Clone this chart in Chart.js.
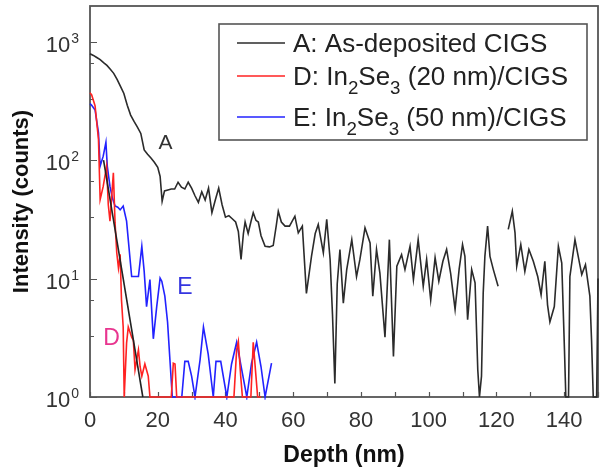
<!DOCTYPE html>
<html>
<head>
<meta charset="utf-8">
<script src="https://cdn.jsdelivr.net/npm/chart.js@4"></script>
<style>
  html, body { margin: 0; padding: 0; background: #fff; }
  canvas { display: block; }
</style>
</head>
<body>
<canvas id="sims" width="601" height="467"></canvas>
<script>
// Depth profiles (depth in nm, intensity in counts)
const depthA = [0, 1, 2, 3, 4, 5, 6, 7, 8, 9, 10, 11, 12, 13, 14, 15, 16, 17, 18, 19, 20, 20.7, 21.3, 22, 23, 24, 25, 26, 27, 28, 29, 30,
  31, 32, 33, 34, 35, 36, 37, 38, 39, 40, 41, 42, 43, 43.8, 44.6, 45.3, 45.8, 46.7, 47.5, 48.2, 49, 49.7, 50.5, 51.7, 53, 54.1, 55, 55.6,
  56.5, 57.6, 58.9, 60.5, 61.5, 62.7, 63.9, 65.4, 66.5, 67.4, 68.9, 69.9, 70.9, 71.6, 72.3, 73, 73.8, 74.8, 75.8, 77.3, 78.7, 79.7, 81.2,
  82.7, 83.5, 84.6, 85.6, 87.1, 88.4, 89.6, 90.6, 92, 93, 94.5, 95.5, 96.9, 98.4, 99.4, 100.6, 101.9, 103, 104.2, 105.3, 106.5, 107.8,
  109, 110, 110.7, 111.5, 112.7, 113.7, 114.5, 115, 115.6, 116.1, 116.6, 117.4, 118.1, 119.1, 120.5, 122, 123.5, 124.7, 125.5, 126,
  127.2, 128.4, 129.6, 130.9, 132.2, 133.2, 134.3, 135.1, 135.8, 137.1, 138.3, 139.3, 140.1, 140.5, 141.3, 141.7, 143.2, 145.2, 146.3,
  147.6, 148.1, 148.6, 149.6, 150];
const countsA = [790, 765, 735, 705, 665, 630, 585, 540, 480, 420, 365, 290, 240, 212, 190, 168, 122, 112, 104, 96, 87, 73, 45, 55, 56, 57, 57, 65, 59, 57, 65, 58,
  50, 44, 54, 46, 58, 36, 46, 58, 42, 33, 34, 32, 30, 25, 14.5, 24, 30, 24, 30, 36, 31, 30, 23, 18.7, 18.5, 19, 28, 37,
  30, 27.7, 27.7, 33.6, 24.3, 27.7, 7.5, 15.4, 24, 28.6, 16.5, 31.6, 14.5, 5, 1.3, 9, 17.6, 6.2, 11.9, 21.3, 10.4, 14.5, 26.8,
  20, 7.1, 17.6, 11.1, 3.2, 21.3, 2.2, 12.7, 15.9, 11.9, 18.7, 9.8, 21.3, 8.6, 14.5, 6.6, 15, 9.5, 14, 17.6, 11, 5.5,
  12, 19.4, 15.4, 4.5, 11.9, 9.2, 1.7, 1, 1.5, 7.5, 15.4, 27.7, 15.4, 11.9, 8.6, null, 26, 37, 24.3, 12.7,
  19.4, 11.5, 17.6, 14, 10.4, 7.3, 14, 6, 4.3, 5.8, 18.7, 13.5, 2.5, 1, 1, 10.4, 21.3, 10.8, 13.1,
  7.1, 3, 1, 1, 10];

const depthD = [0, 0.5, 1.5, 2.5, 3, 3.9, 4.9, 5.4, 5.9, 6.9, 7.4, 7.9, 8.4, 8.9, 9.3, 9.8, 10.1, 10.8, 11.3, 12.3, 12.8, 13.3, 14.3, 14.8,
  15.3, 16.2, 17.2, 17.7, 24, 24.6, 25.1, 25.6, 42.5, 43.3, 43.8, 44.5, 45, 47.5, 48.2, 49, 49.5, 50.5];
const countsD = [370, 355, 287, 150, 46.5, 60, 89, 42, 30.5, 78, 29.5, 16.5, 12.3, 16, 6.6, 3.9, 1, 2.85, 3.9, 3.2, 3, 1.7, 2.5, 1.8,
  1.5, 1.9, 1.5, 1, 1, 1.93, 1.9, 1, 1, 2.5, 2.94, 1.5, 1, 1, 2.9, 1.5, 1, 1];

const depthE = [0, 0.5, 1.5, 2.5, 3, 3.9, 4.7, 5.1, 5.9, 6.6, 7.4, 8.2, 8.9, 9.8, 10.8, 11.3, 12.3, 14.3, 15.3, 16, 16.7, 17.7, 18.7,
  19.7, 20.7, 21.2, 22.1, 22.9, 23.6, 24.3, 27.1, 28, 29, 30, 31, 32.5, 33.5, 34.9, 36.4, 37.2, 38.6, 40.4, 41.8, 43.3, 44.8, 46.3,
  47.7, 49.2, 50.5, 51.7, 53.6];
const countsE = [300, 290, 265, 170, 89, 108, 141, 89, 60, 48, 41, 40, 38, 41, 30.5, 21.3, 10.4, 10.4, 18.7, 11.5, 5.8, 9.8, 3.1,
  5.8, 10.1, 9.5, 7.1, 4.3, 2.06, 1, 1, 2, 2, 1.5, 1, 2.06, 3.9, 2.3, 1, 2, 2, 1, 1.9, 2.9, 1.7, 1,
  1.93, 2.9, 1.8, 1, 1.93];

// straight black decay line drawn over profile D
const depthFit = [4, 15.6];
const countsFit = [100, 1];

const seriesNames = ['A: As-deposited CIGS', 'D: In_2Se_3 (20 nm)/CIGS', 'E: In_2Se_3 (50 nm)/CIGS'];
const seriesColors = ['#2b2b2b', '#ff2222', '#2222ff'];
const xTickStep = 10;
const xLabelStep = 20;
const yMajorTicks = [1, 10, 100, 1000];
const yMinorTicks = [3.3, 6.6, 33, 66, 330, 660];
// curve letters: text, depth, counts, colour
const curveLetters = [['A', 22.3, 140, '#333'], ['E', 28, 8.4, '#3535e0'], ['D', 6.4, 3.1, '#e8358f']];

const FONT = '"Liberation Sans", Arial, sans-serif';

function points(xs, ys) {
  return xs.map((x, i) => ({ x: x, y: ys[i] }));
}

// text with "_n" subscripts
function richText(ctx, text, x, y, size) {
  text.split(/(_\d)/).forEach(part => {
    if (!part) return;
    if (part[0] === '_') {
      ctx.font = (size * 0.72) + 'px ' + FONT;
      ctx.fillText(part[1], x, y + size * 0.36);
      x += ctx.measureText(part[1]).width;
    } else {
      ctx.font = size + 'px ' + FONT;
      ctx.fillText(part, x, y);
      x += ctx.measureText(part).width;
    }
  });
}

const decorations = {
  id: 'decorations',
  beforeDatasetsDraw(chart) {
    const { ctx, chartArea: a, scales: { x, y } } = chart;
    ctx.save();
    ctx.strokeStyle = '#555';
    ctx.lineWidth = 1.8;
    ctx.strokeRect(a.left, a.top, a.right - a.left, a.bottom - a.top);
    ctx.lineWidth = 1.2;
    ctx.beginPath();
    x.ticks.forEach(t => {
      const px = Math.round(x.getPixelForValue(t.value)) + 0.5;
      ctx.moveTo(px, a.bottom);
      ctx.lineTo(px, a.bottom - 5);
    });
    y.ticks.forEach(t => {
      const py = Math.round(y.getPixelForValue(t.value)) + 0.5;
      const len = yMajorTicks.includes(t.value) ? 7 : 4;
      ctx.moveTo(a.left, py);
      ctx.lineTo(a.left + len, py);
    });
    ctx.stroke();
    ctx.restore();
  },
  afterDatasetsDraw(chart) {
    const { ctx, chartArea: a, scales: { x, y } } = chart;
    ctx.save();

    // y tick labels 10^n
    ctx.fillStyle = '#333';
    ctx.textAlign = 'left';
    ctx.textBaseline = 'alphabetic';
    yMajorTicks.forEach(v => {
      const py = y.getPixelForValue(v);
      const exp = String(Math.round(Math.log10(v)));
      ctx.font = '14px ' + FONT;
      const ew = ctx.measureText(exp).width;
      ctx.font = '22px ' + FONT;
      const bw = ctx.measureText('10').width;
      const right = a.left - 11;
      ctx.fillText('10', right - ew - bw - 1, py + 10);
      ctx.font = '14px ' + FONT;
      ctx.fillText(exp, right - ew, py + 1);
    });

    // curve letters
    ctx.textAlign = 'center';
    ctx.textBaseline = 'middle';
    curveLetters.forEach(([t, d, c, col]) => {
      ctx.fillStyle = col;
      ctx.font = (t === 'A' ? 21 : 23) + 'px ' + FONT;
      ctx.fillText(t, x.getPixelForValue(d), y.getPixelForValue(c));
    });

    // legend
    const box = { left: 219, top: 24, right: 587, bottom: 140 };
    const rows = [43, 76, 117];
    ctx.fillStyle = '#fff';
    ctx.fillRect(box.left, box.top, box.right - box.left, box.bottom - box.top);
    ctx.strokeStyle = '#555';
    ctx.lineWidth = 1.6;
    ctx.strokeRect(box.left, box.top, box.right - box.left, box.bottom - box.top);
    ctx.textAlign = 'left';
    ctx.textBaseline = 'alphabetic';
    seriesNames.forEach((name, i) => {
      ctx.strokeStyle = seriesColors[i];
      ctx.lineWidth = 1.6;
      ctx.beginPath();
      ctx.moveTo(237, rows[i]);
      ctx.lineTo(285, rows[i]);
      ctx.stroke();
      ctx.fillStyle = '#222';
      richText(ctx, name, 293, rows[i] + 9, 26);
    });
    ctx.restore();
  }
};

const lineStyle = { pointRadius: 0, borderWidth: 1.6, tension: 0, spanGaps: false, clip: 3 };

new Chart(document.getElementById('sims'), {
  type: 'line',
  data: {
    datasets: [
      Object.assign({ label: seriesNames[0], data: points(depthA, countsA), borderColor: seriesColors[0], order: 0 }, lineStyle),
      Object.assign({ label: 'fit', data: points(depthFit, countsFit), borderColor: '#222', order: 1 }, lineStyle),
      Object.assign({ label: seriesNames[1], data: points(depthD, countsD), borderColor: seriesColors[1], order: 2 }, lineStyle),
      Object.assign({ label: seriesNames[2], data: points(depthE, countsE), borderColor: seriesColors[2], order: 3 }, lineStyle)
    ]
  },
  options: {
    responsive: false,
    animation: false,
    layout: { padding: { top: 6, right: 3, left: 0, bottom: 0 } },
    plugins: { legend: { display: false }, tooltip: { enabled: false } },
    scales: {
      x: {
        type: 'linear',
        min: 0,
        max: 150,
        grid: { display: false },
        border: { display: false },
        ticks: {
          stepSize: xTickStep,
          autoSkip: false,
          maxRotation: 0,
          padding: 3,
          color: '#333',
          font: { family: FONT, size: 22 },
          callback: v => (v % xLabelStep === 0 && v < 150 ? String(v) : '')
        },
        title: {
          display: true,
          text: 'Depth (nm)',
          color: '#111',
          font: { family: FONT, size: 23, weight: 'bold', lineHeight: 1 },
          padding: { top: 0, bottom: 0 }
        },
        afterFit: s => { s.height = 70; }
      },
      y: {
        type: 'logarithmic',
        min: 1,
        max: 2000,
        grid: { display: false },
        border: { display: false },
        ticks: { display: false },
        afterBuildTicks: s => {
          s.ticks = yMajorTicks.concat(yMinorTicks).map(v => ({ value: v }));
        },
        title: {
          display: true,
          text: 'Intensity (counts)',
          color: '#111',
          font: { family: FONT, size: 22, weight: 'bold' },
          padding: { top: 9, bottom: 0 }
        },
        afterFit: s => { s.width = 90; }
      }
    }
  },
  plugins: [decorations]
});
</script>
</body>
</html>
